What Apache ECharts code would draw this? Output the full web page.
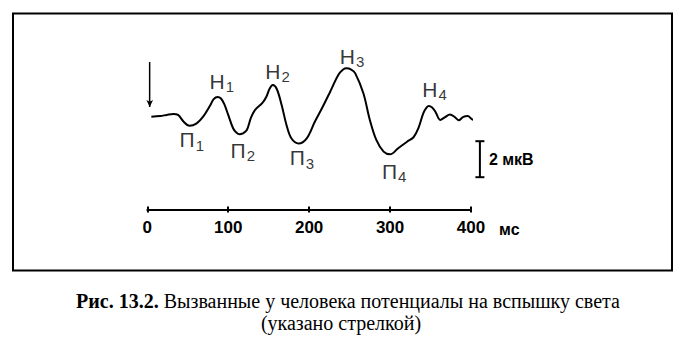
<!DOCTYPE html>
<html>
<head>
<meta charset="utf-8">
<script src="https://cdn.jsdelivr.net/npm/echarts@6/dist/echarts.min.js"></script>
<style>
html,body{margin:0;padding:0;background:#fff;}
#chart{width:688px;height:350px;}
</style>
</head>
<body>
<div id="chart"></div>
<script>
// Time (ms) and amplitude (µV, drawn deflection)
const timeMs = [5,16,24,32,38,45,52,61,69,78,82,87,91,95,100,106,110,114,118,123,128,133,142,147,151,155,160,166,172,178,187,197,207,216,226,236,242,246,252,257,267,275,283,292,300,310,321,329,335,341,345,348,352,356,362,368,374,380,385,390,396,401,406,412,419,425,432];
const amplitude = [-0.04,0,0.06,0.11,0.06,-0.32,-0.54,-0.41,-0.04,0.61,0.94,1.06,0.97,0.67,0.06,-0.68,-0.92,-1.02,-0.97,-0.78,-0.11,0.33,0.72,1.06,1.5,1.72,1.5,0.61,-0.5,-1.24,-1.53,-1.24,-0.32,0.44,1.35,2.28,2.58,2.65,2.58,2.37,1.26,-0.22,-1.33,-1.98,-2.13,-1.79,-1.43,-1.18,-0.68,0.15,0.47,0.56,0.47,0.24,-0.22,-0.06,0.08,-0.06,-0.24,-0.06,0.0,-0.17,-0.24,-0.09,-0.06,-0.19,-0.28];

// Wave labels
const waveLetters = ['Н','П','Н','П','П','Н','П','Н'];
const waveIndex   = ['1','1','2','2','3','3','4','4'];
const waveTimes   = [92,55,161,118,191,253,305,355];
const waveAmps    = [1.94,-1.33,2.5,-1.89,-2.33,3.33,-3.06,1.5];

// Axis ticks
const tickValues = [0,100,200,300,400];
const tickLabels = ['0','100','200','300','400'];
const axisUnit = 'мс';

// Stimulus arrow (time, top amplitude, tip amplitude)
const stimulusTime = [3];
const stimulusAmps = [3.0, 0.5];

// Calibration bar (time, from, to) and label
const calibTime = [411];
const calibAmps = [-1.4, -3.4];
const calibLabel = '2 мкВ';

const sans = "'Liberation Sans Narrow','Liberation Sans',Arial,sans-serif";
const serif = "'Liberation Serif','Times New Roman',serif";

const chart = echarts.init(document.getElementById('chart'), null, {renderer: 'svg'});

const curve = timeMs.map((t, i) => [t, amplitude[i]]);
const labels = waveTimes.map((t, i) => ({
  value: [t, waveAmps[i]],
  name: waveLetters[i] + waveIndex[i],
  label: {formatter: '{m|' + waveLetters[i] + '}{s|' + waveIndex[i] + '}'}
}));

const option = {
  backgroundColor: '#fff',
  animation: false,
  grid: {left: 147.3, right: 217, top: 58.4, bottom: 140.4, containLabel: false},
  xAxis: [{
    type: 'value', min: 0, max: 400, interval: 100,
    axisLine: {show: true, onZero: false, lineStyle: {color: '#000', width: 2}},
    axisTick: {show: true, length: 3, lineStyle: {color: '#000', width: 2}},
    splitLine: {show: false},
    axisLabel: {
      show: true, margin: 9, color: '#000',
      fontFamily: sans, fontSize: 17, fontWeight: 'bold',
      formatter: v => { const k = tickValues.indexOf(v); return k >= 0 ? tickLabels[k] : ''; }
    },
    name: axisUnit, nameLocation: 'end', nameGap: 28,
    nameTextStyle: {color: '#000', fontFamily: sans, fontSize: 16, fontWeight: 'bold',
      verticalAlign: 'top', align: 'left', padding: [12, 0, 0, 0]}
  }, {
    type: 'value', min: 0, max: 400, interval: 100, position: 'bottom',
    axisLine: {show: false, onZero: false},
    axisTick: {show: true, inside: true, length: 3, lineStyle: {color: '#000', width: 2}},
    axisLabel: {show: false}, splitLine: {show: false}
  }],
  yAxis: {
    type: 'value', min: -5.2, max: 3.2, show: false
  },
  series: [{
    type: 'line', name: 'ВП', data: curve, smooth: 0.35, clip: false,
    symbol: 'none', lineStyle: {color: '#000', width: 2}
  }, {
    type: 'scatter', name: 'waves', data: labels, symbolSize: 0, clip: false,
    label: {
      show: true, position: 'inside', color: '#000',
      rich: {
        m: {fontFamily: sans, fontSize: 21, color: '#000'},
        s: {fontFamily: sans, fontSize: 15, color: '#000', padding: [11, 0, 0, 1]}
      }
    }
  }, {
    type: 'line', name: 'stimulus', clip: false, symbol: 'none',
    data: [[stimulusTime[0], stimulusAmps[0]], [stimulusTime[0], stimulusAmps[1]]],
    lineStyle: {color: '#000', width: 1.2},
    markLine: {
      silent: true, symbol: ['none', 'arrow'], symbolSize: [5, 7],
      lineStyle: {color: '#000', width: 1.2, type: 'solid'}, label: {show: false},
      data: [[{coord: [stimulusTime[0], stimulusAmps[0]]}, {coord: [stimulusTime[0], stimulusAmps[1]]}]]
    }
  }, {
    type: 'custom', name: 'calibration', clip: false,
    data: [[calibTime[0], calibAmps[0], calibAmps[1]]],
    renderItem: function (params, api) {
      const top = api.coord([api.value(0), api.value(1)]);
      const bot = api.coord([api.value(0), api.value(2)]);
      const x = top[0];
      const st = {stroke: '#000', lineWidth: 2};
      return {
        type: 'group',
        children: [
          {type: 'line', shape: {x1: x, y1: top[1], x2: x, y2: bot[1]}, style: st},
          {type: 'line', shape: {x1: x - 4.5, y1: top[1], x2: x + 4.5, y2: top[1]}, style: st},
          {type: 'line', shape: {x1: x - 4.5, y1: bot[1], x2: x + 4.5, y2: bot[1]}, style: st},
          {type: 'text', x: x + 9, y: (top[1] + bot[1]) / 2,
            style: {text: calibLabel, fill: '#000', font: 'bold 16px ' + sans,
              textAlign: 'left', textVerticalAlign: 'middle', align: 'left', verticalAlign: 'middle'}}
        ]
      };
    }
  }],
  graphic: [{
    type: 'rect', silent: true,
    shape: {x: 13, y: 13.5, width: 659, height: 257},
    style: {fill: 'none', stroke: '#000', lineWidth: 2}
  }, {
    type: 'text', silent: true, x: 348, y: 301,
    style: {
      text: '{b|Рис. 13.2.} Вызванные у человека потенциалы на вспышку света',
      textAlign: 'center', textVerticalAlign: 'middle', align: 'center', verticalAlign: 'middle',
      fontFamily: serif, fontSize: 20, fill: '#000',
      rich: {b: {fontFamily: serif, fontSize: 20, fontWeight: 'bold', fill: '#000', color: '#000'}}
    }
  }, {
    type: 'text', silent: true, x: 341, y: 323,
    style: {
      text: '(указано стрелкой)', textAlign: 'center', textVerticalAlign: 'middle',
      align: 'center', verticalAlign: 'middle',
      fontFamily: serif, fontSize: 20, fill: '#000'
    }
  }]
};
chart.setOption(option);
</script>
</body>
</html>
